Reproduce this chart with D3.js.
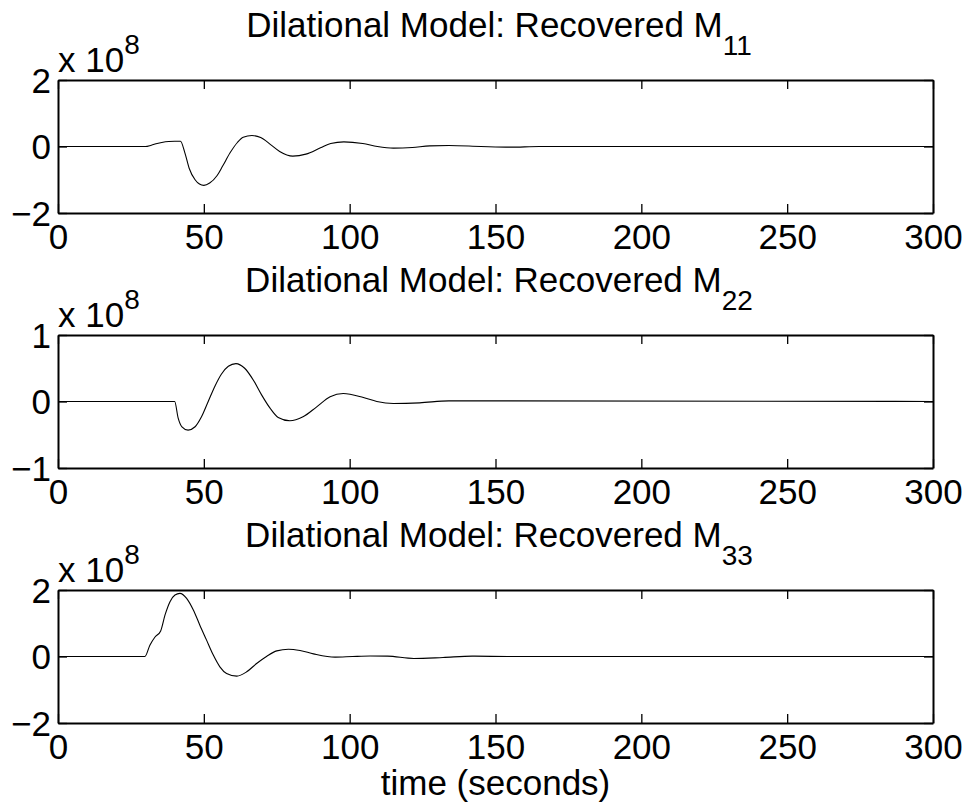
<!DOCTYPE html>
<html>
<head>
<meta charset="utf-8">
<script src="https://cdn.jsdelivr.net/npm/d3@7"></script>
<style>
  html, body { margin: 0; padding: 0; background: #fff; }
  svg { display: block; }
  text { font-family: "Liberation Sans", Arial, Helvetica, sans-serif; fill: #000; }
</style>
</head>
<body>
<svg id="chart" width="969" height="807"></svg>
<script>
// Recovered moment-tensor components (units of 1e8), sampled in seconds
const tM11 = [0, 30, 32, 34, 36, 38, 40, 42, 43.5, 45, 47, 48.5, 50, 52, 54.5, 56.5, 59, 61.5, 63.5, 66.5, 69.5, 73, 76, 80.5, 85, 90, 93.5, 98, 104.5, 109.5, 115, 121.5, 127.5, 134, 145, 155, 165, 300];
const vM11 = [0, 0, 0.04, 0.09, 0.13, 0.15, 0.16, 0.16, -0.19, -0.66, -1.0, -1.13, -1.17, -1.1, -0.88, -0.58, -0.19, 0.12, 0.28, 0.33, 0.27, 0.05, -0.15, -0.29, -0.23, -0.04, 0.09, 0.14, 0.09, 0.0, -0.05, -0.03, 0.02, 0.03, 0.0, -0.02, 0, 0];

const tM22 = [0, 40, 41.2, 42.5, 44.6, 47, 49.2, 51.5, 53.8, 56, 58.4, 61, 64, 67, 69.8, 72.7, 75.5, 79.5, 84, 88.7, 93.3, 97.8, 104.7, 109.3, 115, 124, 134, 300];
const vM22 = [0, 0, -0.25, -0.38, -0.43, -0.38, -0.23, 0, 0.23, 0.41, 0.53, 0.57, 0.5, 0.32, 0.1, -0.1, -0.24, -0.29, -0.23, -0.08, 0.07, 0.12, 0.06, 0, -0.03, -0.02, 0.01, 0];

const tM33 = [0, 29.8, 31.5, 33.2, 35.2, 36.7, 38.4, 40.1, 41.8, 44.1, 46.4, 48.6, 50.9, 53.2, 55.5, 57.8, 61.3, 64.7, 68.1, 71.6, 75, 79, 83, 87.6, 95, 101, 107, 113, 122, 132, 142, 155, 300];
const vM33 = [0, 0, 0.34, 0.58, 0.77, 1.25, 1.65, 1.85, 1.9, 1.75, 1.4, 0.95, 0.5, 0.05, -0.31, -0.51, -0.59, -0.46, -0.21, 0.01, 0.17, 0.22, 0.18, 0.08, -0.02, 0.0, 0.015, 0.01, -0.06, -0.03, 0.01, 0, 0];

const xTicks = [0, 50, 100, 150, 200, 250, 300];
const yTicksM11 = [-2, 0, 2];
const yTicksM22 = [-1, 0, 1];
const yTicksM33 = [-2, 0, 2];
const subscripts = ["11", "22", "33"];

const panels = [
  { t: tM11, v: vM11, yTicks: yTicksM11, sub: subscripts[0] },
  { t: tM22, v: vM22, yTicks: yTicksM22, sub: subscripts[1] },
  { t: tM33, v: vM33, yTicks: yTicksM33, sub: subscripts[2] }
];

const svg = d3.select("#chart");
const left = 58, right = 933, plotH = 133, firstTop = 80, step = 255;
const fontSize = 35, subSize = 28;

const x = d3.scaleLinear().domain([0, 300]).range([left, right]);
const fmt = d => (d < 0 ? "\u2212" + Math.abs(d) : String(d));

panels.forEach((p, i) => {
  const top = firstTop + i * step;
  const bottom = top + plotH;
  const ext = d3.max(p.yTicks);
  const y = d3.scaleLinear().domain([-ext, ext]).range([bottom, top]);

  const g = svg.append("g");

  // curve
  const pts = p.t.map((t, k) => [t, p.v[k]]);
  g.append("path")
    .datum(pts)
    .attr("fill", "none")
    .attr("stroke", "#000")
    .attr("stroke-width", 1.1)
    .attr("d", d3.line().x(d => x(d[0])).y(d => y(d[1])).curve(d3.curveMonotoneX));

  // axes with inward ticks
  const styleAxis = sel => {
    sel.attr("font-size", null).attr("font-family", null);
    sel.select(".domain").attr("stroke", "#000").attr("stroke-width", 2);
    sel.selectAll(".tick line").attr("stroke", "#000").attr("stroke-width", 1.3);
    sel.selectAll(".tick text").attr("font-size", fontSize).attr("fill", "#000");
  };

  g.append("g").attr("transform", `translate(0,${bottom})`)
    .call(d3.axisBottom(x).tickValues(xTicks).tickFormat(d3.format("d"))
      .tickSizeInner(-9).tickSizeOuter(0).tickPadding(11))
    .call(styleAxis);

  g.append("g").attr("transform", `translate(0,${top})`)
    .call(d3.axisTop(x).tickValues(xTicks).tickFormat("")
      .tickSizeInner(-9).tickSizeOuter(0))
    .call(styleAxis);

  g.append("g").attr("transform", `translate(${left},0)`)
    .call(d3.axisLeft(y).tickValues(p.yTicks).tickFormat(fmt)
      .tickSizeInner(-9).tickSizeOuter(0).tickPadding(7))
    .call(styleAxis)
    .call(s => s.selectAll(".tick text").attr("dy", "0.35em"));

  g.append("g").attr("transform", `translate(${right},0)`)
    .call(d3.axisRight(y).tickValues(p.yTicks).tickFormat("")
      .tickSizeInner(-9).tickSizeOuter(0))
    .call(styleAxis);

  // exponent label
  const ex = g.append("text")
    .attr("x", left)
    .attr("y", top - 8)
    .attr("font-size", fontSize);
  ex.append("tspan").text("x 10");
  ex.append("tspan").attr("dy", -18).attr("font-size", subSize).text("8");

  // title
  const title = g.append("text")
    .attr("x", 499)
    .attr("y", top - 43)
    .attr("text-anchor", "middle")
    .attr("font-size", fontSize);
  title.append("tspan").text("Dilational Model: Recovered M");
  title.append("tspan").attr("dy", 18).attr("font-size", subSize).text(p.sub);
});

svg.append("text")
  .attr("x", 495.5)
  .attr("y", 795)
  .attr("text-anchor", "middle")
  .attr("font-size", fontSize)
  .text("time (seconds)");
</script>
</body>
</html>
